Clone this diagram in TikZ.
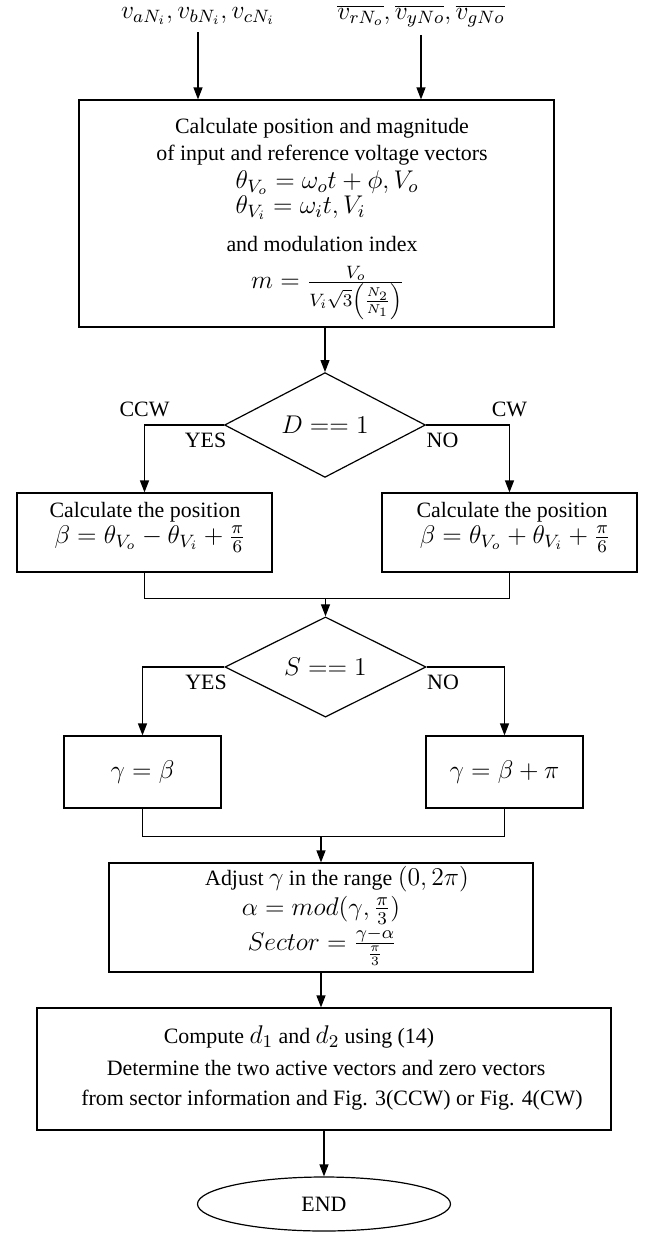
\RequirePackage{fix-cm}
\documentclass[tikz,border=0pt]{standalone}
\usepackage[no-math]{fontspec}
\setmainfont{Liberation Serif}
\usetikzlibrary{arrows.meta,calc,positioning,shapes.geometric}
\newcommand{\mbig}{\fontsize{12.8}{15}\selectfont}

\begin{document}
\begin{tikzpicture}[x=0.5pt,y=-0.5pt,
  font=\fontsize{10.95}{13.5}\selectfont,
  line width=0.6pt,
  >={Triangle[length=6pt,width=4.5pt]},
  blk/.style={draw,rectangle,inner sep=0pt},
  dec/.style={draw,diamond,inner sep=0pt,minimum width=100.5pt,minimum height=41.5pt},
  txt/.style={inner sep=0pt},
  tag/.style={inner sep=0pt}]
  \useasboundingbox (0,0) rectangle (645,1233);

  % inputs
  \node[txt] (vin) at (198,16) {\mbig $v_{aN_i}, v_{bN_i}, v_{cN_i}$};
  \node[txt] (vref) at (421,16) {\mbig $\overline{v_{rN_o}}, \overline{v_{yNo}}, \overline{v_{gNo}}$};

  \node[blk,minimum width=237.5pt,minimum height=113.5pt] (calc) at (316.5,213.5) {};
  \draw[->] (vin.south) ++(0,7) -- (vin.south |- calc.north);
  \draw[->] (vref.south) ++(0,7) -- (vref.south |- calc.north);
  \node[txt] (c1) at (322,128) {Calculate position and magnitude};
  \node[txt] (c2) at (322,155) {of input and reference voltage vectors};
  \node[txt,anchor=west] (c3) at (235,183) {\mbig $\theta_{V_o} = \omega_o t + \phi, V_o$};
  \node[txt,anchor=west] (c4) at (235,208) {\mbig $\theta_{V_i} = \omega_i t, V_i$};
  \node[txt] (c5) at (322,244) {and modulation index};
  \node[txt] (c6) at (328,293) {\mbig $m = \frac{V_o}{V_i\sqrt{3}\left(\frac{N_2}{N_1}\right)}$};

  % direction
  \node[dec] (dd) at (325,425) {\mbig $D == 1$};
  \draw[->] (calc.south -| dd.north) -- (dd.north);
  \node[blk,minimum width=127.5pt,minimum height=39.5pt] (pl) at (144.5,532.5) {};
  \node[blk,minimum width=127.5pt,minimum height=39.5pt] (pr) at (509.5,532.5) {};
  \draw[->] (dd.west) -| node[tag,above=4pt] {CCW} (pl.north);
  \draw[->] (dd.east) -| node[tag,above=4pt] {CW} (pr.north);
  \node[tag,below left=3.5pt and -1.5pt of dd.west] (y1) {YES};
  \node[tag,below right=3.5pt and 0pt of dd.east] (n1) {NO};
  \node[txt] (pl1) at (145,512) {Calculate the position};
  \node[txt] (pl2) at (150,539) {\mbig $\beta = \theta_{V_o} - \theta_{V_i} + \frac{\pi}{6}$};
  \node[txt] (pr1) at (512,512) {Calculate the position};
  \node[txt] (pr2) at (515,539) {\mbig $\beta = \theta_{V_o} + \theta_{V_i} + \frac{\pi}{6}$};
  \draw (pl.south) -- ++(0,26) coordinate (jp) -| (pr.south);

  % sector side
  \node[dec] (ds) at (325.5,667) {\mbig $S == 1$};
  \draw[->] (jp -| ds.north) -- (ds.north);
  \node[blk,minimum width=78.5pt,minimum height=36pt] (gl) at (142.5,772) {\mbig $\gamma = \beta$};
  \node[blk,minimum width=78.5pt,minimum height=36pt] (gr) at (504.5,772) {\mbig $\gamma = \beta + \pi$};
  \draw[->] (ds.west) -| (gl.north);
  \draw[->] (ds.east) -| (gr.north);
  \node[tag,below left=3.5pt and -1.5pt of ds.west] (y2) {YES};
  \node[tag,below right=3.5pt and 0pt of ds.east] (n2) {NO};
  \draw (gl.south) -- ++(0,28) coordinate (jg) -| (gr.south);

  \node[blk,minimum width=212pt,minimum height=54.5pt] (adj) at (321,917.5) {};
  \draw[->] (jg -| adj.north) -- (adj.north);
  \node[txt] (a1) at (337,879) {Adjust {\mbig$\gamma$} in the range {\mbig$(0,2\pi)$}};
  \node[txt] (a2) at (321,910) {\mbig $\alpha = mod(\gamma, \frac{\pi}{3})$};
  \node[txt] (a3) at (322,947) {\mbig $Sector = \frac{\gamma-\alpha}{\frac{\pi}{3}}$};

  \node[blk,minimum width=287pt,minimum height=61pt] (cmp) at (324,1069) {};
  \draw[->] (adj.south) -- (adj.south |- cmp.north);
  \node[txt] (m1) at (299,1037) {Compute {\mbig$d_1$} and {\mbig$d_2$} using (14)};
  \node[txt] (m2) at (326,1068) {Determine the two active vectors and zero vectors};
  \node[txt] (m3) at (332,1100) {from sector information and Fig. 3(CCW) or Fig. 4(CW)};

  \node[draw,ellipse,inner sep=0pt,minimum width=126.5pt,minimum height=27pt] (fin) at (324,1204) {END};
  \draw[->] (cmp.south -| fin.north) -- (fin.north);
\end{tikzpicture}
\end{document}
